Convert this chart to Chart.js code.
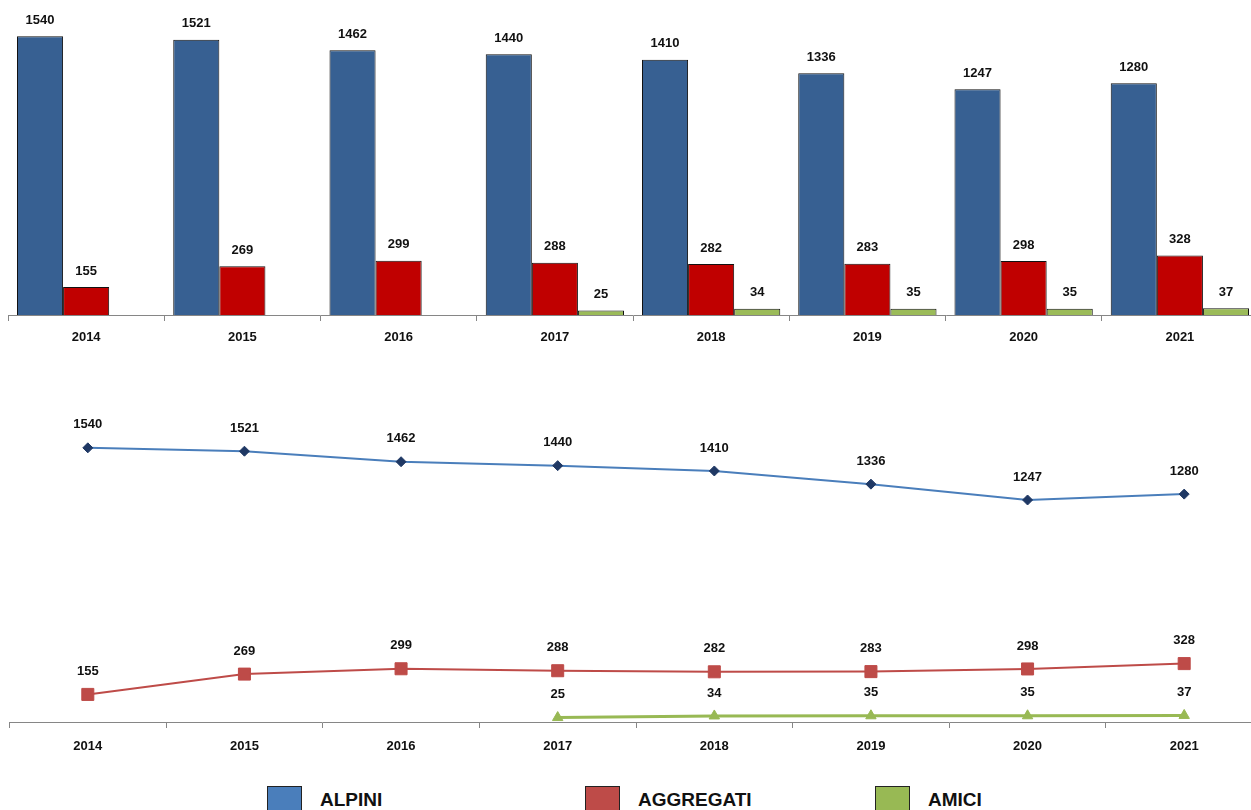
<!DOCTYPE html>
<html>
<head>
<meta charset="utf-8">
<script src="https://cdn.jsdelivr.net/npm/chart.js@4.4.1/dist/chart.umd.min.js"></script>
<style>
  html, body { margin: 0; padding: 0; background: #fff; width: 1251px; height: 810px; overflow: hidden; }
  .box { position: absolute; left: 0; }
  #barBox { top: 0; width: 1265px; height: 355px; }
  #lineBox { top: 360px; width: 1272px; height: 400px; }
  .key { position: absolute; top: 786px; display: flex; align-items: center; font: bold 19px "Liberation Sans", sans-serif; color: #111; }
  .key span.sw { display: inline-block; width: 33px; height: 25px; border: 1px solid #222; margin-right: 18px; }
</style>
</head>
<body>
<div class="box" id="barBox"><canvas id="barChart"></canvas></div>
<div class="box" id="lineBox"><canvas id="lineChart"></canvas></div>
<div id="keys"></div>
<script>
const years = ["2014", "2015", "2016", "2017", "2018", "2019", "2020", "2021"]
const series_names = ["ALPINI", "AGGREGATI", "AMICI"]
const alpini = [1540, 1521, 1462, 1440, 1410, 1336, 1247, 1280]
const aggregati = [155, 269, 299, 288, 282, 283, 298, 328]
const amici = [null, null, null, 25, 34, 35, 35, 37]

const barColors = ['#376092', '#C00000', '#9BBB59']
const lineColors = ['#4A7EBB', '#BE4B48', '#98B954']
const font = '"Liberation Sans", sans-serif'

// draws the number above each bar / point
let valueLabels = {
  id: 'valueLabels',
  afterDatasetsDraw(chart, args, opts) {
    const ctx = chart.ctx
    ctx.save()
    ctx.font = 'bold 13px ' + font
    ctx.fillStyle = '#111'
    ctx.textAlign = 'center'
    ctx.textBaseline = 'middle'
    chart.data.datasets.forEach((ds, i) => {
      chart.getDatasetMeta(i).data.forEach((el, j) => {
        if (ds.data[j] == null) return
        ctx.fillText(ds.data[j], el.x, el.y - opts.gap)
      })
    })
    ctx.restore()
  }
}

let xAxis = (height, pad) => ({
  offset: true,
  grid: { offset: true, drawOnChartArea: false, drawTicks: true, tickLength: 6, color: '#868686' },
  border: { color: '#868686', width: 1 },
  ticks: { color: '#111', font: { family: font, size: 13, weight: 'bold' }, padding: pad, maxRotation: 0 },
  afterFit: s => { s.height = height }
})

new Chart(document.getElementById("barChart"), {
  type: 'bar',
  data: {
    labels: years,
    datasets: [alpini, aggregati, amici].map((d, i) => ({
      label: series_names[i],
      data: d,
      backgroundColor: barColors[i],
      borderColor: '#111',
      borderWidth: 1,
      barPercentage: 1,
      categoryPercentage: 0.885
    }))
  },
  options: {
    responsive: true,
    maintainAspectRatio: false,
    animation: false,
    layout: { padding: { left: 8, right: 7, top: 0, bottom: 0 } },
    scales: {
      x: xAxis(40, 9),
      y: { display: false, min: 0, max: 1740 }
    },
    plugins: { legend: { display: false }, tooltip: { enabled: false }, valueLabels: { gap: 16 } }
  },
  plugins: [valueLabels]
})

const pointStyles = ['rectRot', 'rect', 'triangle']
const pointSizes = [5, 8.5, 6]
const pointFill = ['#1F3864', '#BE4B48', '#98B954']
const lineWidths = [2, 2, 3]

new Chart(document.getElementById("lineChart"), {
  type: 'line',
  data: {
    labels: years,
    datasets: [alpini, aggregati, amici].map((d, i) => ({
      label: series_names[i],
      data: d,
      borderColor: lineColors[i],
      borderWidth: lineWidths[i],
      pointStyle: pointStyles[i],
      pointRadius: pointSizes[i],
      pointBackgroundColor: pointFill[i],
      pointBorderColor: pointFill[i],
      pointBorderWidth: 1,
      tension: 0
    }))
  },
  options: {
    responsive: true,
    maintainAspectRatio: false,
    animation: false,
    layout: { padding: { left: 3, right: 7, top: 5, bottom: 0 } },
    scales: {
      x: xAxis(38, 11),
      y: { display: false, min: 0, max: 1980 }
    },
    plugins: { legend: { display: false }, tooltip: { enabled: false }, valueLabels: { gap: 23 } }
  },
  plugins: [valueLabels]
})

// legend under the charts
const keyLeft = [267, 585, 875]
document.getElementById("keys").innerHTML = series_names.map((n, i) =>
  `<div class="key" style="left:${keyLeft[i]}px"><span class="sw" style="background:${lineColors[i]}"></span>${n}</div>`
).join('')
</script>
</body>
</html>
